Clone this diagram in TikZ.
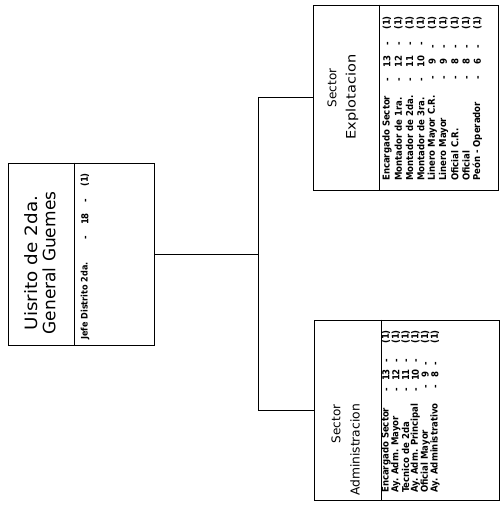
\documentclass[tikz,border=0pt]{standalone}
\usepackage{tikz}
\usepackage{fontspec}
\setsansfont{DejaVu Sans}
\newfontfamily\filaFamily{DejaVu Sans Condensed}[BoldFont={DejaVu Sans Condensed Bold}]

\newcommand{\filaFont}{\filaFamily\bfseries\fontsize{9.5}{10}\selectfont}
\tikzset{
  caja/.style={draw, line width=0.8pt, inner sep=0pt},
  titulo/.style={rotate=90, inner sep=0pt, font=\sffamily\fontsize{#1}{#1}\selectfont},
  fila/.style={rotate=90, inner sep=0pt, font=\filaFont},
  enlace/.style={line width=0.6pt},
}

\begin{document}
\begin{tikzpicture}[x=1pt, y=-1pt]
  \useasboundingbox (0,0) rectangle (501,506);

  % cajas
  \node[caja, minimum width=146, minimum height=182] (distrito) at (81,254) {};
  \node[caja, minimum width=185, minimum height=185] (explot) at (405.5,97.5) {};
  \node[caja, minimum width=185, minimum height=180] (admin) at (406.5,410) {};

  \draw[enlace] ([xshift=67]distrito.north west) -- ([xshift=67]distrito.south west);
  \draw[enlace] ([xshift=67]explot.north west) -- ([xshift=67]explot.south west);
  \draw[enlace] ([xshift=68]admin.north west) -- ([xshift=68]admin.south west);

  % conexiones
  \coordinate (eje) at (258,0);
  \draw[enlace] (distrito.east) -- (distrito.east -| eje);
  \draw[enlace] (explot.west) -| (eje |- admin.west) -- (admin.west);

  % titulos
  \node[titulo=17, xscale=1.08] (dist1) at (31,263) {Uisrito de 2da.};
  \node[titulo=17] (dist2) at (49,263) {General Guemes};
  \node[titulo=12] (exp1) at (332,88) {Sector};
  \node[titulo=13, xscale=1.12] (exp2) at (352,97) {Explotacion};
  \node[titulo=12] (adm1) at (336,424) {Sector};
  \node[titulo=12.3] (adm2) at (355,450) {Administracion};

  % cargos
  \node[fila, anchor=west, font=\filaFont\fontsize{9}{10}\selectfont] (jefe) at (85,340) {Jefe Distrito 2da.};
  \node[fila] (jefecat) at (85,219) {-\hspace{11pt}18\hspace{11pt}-};
  \node[fila] (jefen) at (85,180) {(1)};

  \foreach \cargo/\cat [count=\i] in {Encargado Sector/13, Montador de 1ra./12,
      Montador de 2da./11, Montador de 3ra./10, Linero Mayor C.R./9,
      Linero Mayor/9, Oficial C.R./8, Oficial/8, Peón - Operador/6}{
    \node[fila, anchor=west] (exp\i) at ({387+(\i-1)*11.3},181) {\cargo};
    \node[fila] (expcat\i) at ({387+(\i-1)*11.3},62) {-\hspace{10.5pt}\cat\hspace{10.5pt}-};
    \node[fila] (expn\i) at ({387+(\i-1)*11.3},23) {(1)};
  }

  \foreach \cargo/\cat [count=\i] in {Encargado Sector/13, Ay. Adm. Mayor/12,
      Tecnico de 2da/11, Ay. Adm. Principal/10, Oficial Mayor/9,
      Ay. Administrativo/8}{
    \node[fila, anchor=west] (adm\i) at ({386+(\i-1)*9.8},493) {\cargo};
    \node[fila] (admcat\i) at ({386+(\i-1)*9.8},375) {-\hspace{7pt}\cat\hspace{7pt}-};
    \node[fila] (admn\i) at ({386+(\i-1)*9.8},337) {(1)};
  }
\end{tikzpicture}
\end{document}
